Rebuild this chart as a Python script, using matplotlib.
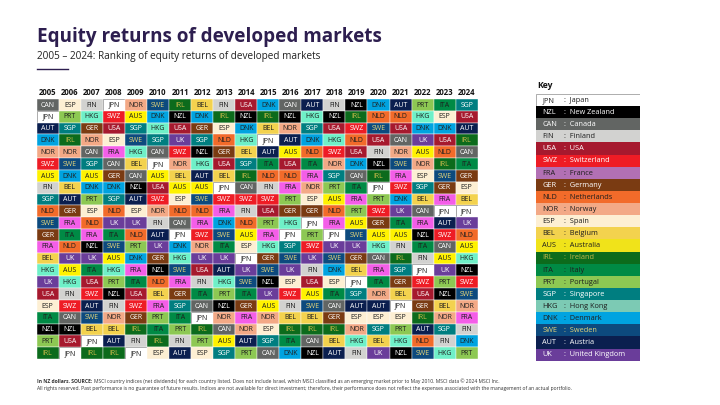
import matplotlib
matplotlib.use("Agg")
import matplotlib.pyplot as plt
from matplotlib.patches import Rectangle

FONT = ["Open Sans", "DejaVu Sans"]
plt.rcParams["font.family"] = FONT

years = [str(y) for y in range(2005, 2025)]

# Ranking rows (rank 1 = best), columns 2005..2024
r01 = ["CAN","ESP","FIN","JPN","NOR","SWE","IRL","BEL","FIN","USA","DNK","CAN","AUT","FIN","NZL","DNK","AUT","PRT","ITA","SGP"]
r02 = ["JPN","PRT","HKG","SWZ","AUS","DNK","NZL","DNK","IRL","NZL","IRL","NZL","HKG","NZL","IRL","NLD","NLD","HKG","ESP","USA"]
r03 = ["AUT","SGP","GER","USA","SGP","HKG","USA","GER","ESP","DNK","BEL","NOR","SGP","USA","SWZ","SWE","USA","DNK","DNK","AUT"]
r04 = ["DNK","IRL","NOR","ESP","SWE","SGP","UK","SGP","NLD","HKG","JPN","AUT","DNK","HKG","NLD","USA","CAN","UK","USA","IRL"]
r05 = ["NOR","NOR","CAN","FRA","HKG","CAN","SWZ","NZL","GER","BEL","AUT","AUS","NLD","SWZ","USA","FIN","NOR","AUS","NLD","CAN"]
r06 = ["SWZ","SWE","SGP","CAN","BEL","JPN","NOR","HKG","USA","SGP","ITA","USA","ITA","NOR","DNK","NZL","SWE","NOR","IRL","ITA"]
r07 = ["AUS","DNK","AUS","GER","CAN","AUS","BEL","AUT","BEL","IRL","NLD","NLD","FRA","SGP","CAN","IRL","FRA","ESP","SWE","GER"]
r08 = ["FIN","BEL","DNK","DNK","NZL","USA","AUS","AUS","JPN","CAN","FIN","FRA","NOR","PRT","ITA","JPN","SWZ","SGP","GER","ESP"]
r09 = ["SGP","AUT","PRT","SGP","AUT","SWZ","ESP","SWE","SWZ","SWZ","SWZ","PRT","ESP","AUS","FRA","PRT","DNK","BEL","FRA","BEL"]
r10 = ["NLD","GER","ESP","NLD","ESP","NOR","NLD","NLD","FRA","FIN","USA","GER","GER","NLD","PRT","SWZ","UK","CAN","JPN","JPN"]
r11 = ["SWE","FRA","NLD","UK","UK","FIN","CAN","FRA","DNK","NLD","PRT","HKG","JPN","FRA","AUS","GER","ITA","FRA","AUT","UK"]
r12 = ["GER","ITA","FRA","ITA","NLD","AUT","JPN","SWZ","SWE","AUS","FRA","JPN","PRT","JPN","SWE","AUS","AUS","NZL","SWZ","NLD"]
r13 = ["FRA","NLD","NZL","SWE","PRT","UK","DNK","NOR","ITA","ESP","HKG","SGP","SWZ","UK","UK","HKG","FIN","ITA","CAN","AUS"]
r14 = ["BEL","UK","UK","AUS","DNK","GER","HKG","UK","UK","JPN","GER","SWE","UK","SWE","GER","CAN","IRL","FIN","AUS","HKG"]
r15 = ["HKG","AUS","ITA","HKG","FRA","NZL","SWE","USA","AUT","UK","SWE","UK","FIN","DNK","BEL","FRA","SGP","JPN","UK","NZL"]
r16 = ["UK","HKG","USA","PRT","ITA","NLD","FRA","FIN","HKG","SWE","NZL","ESP","USA","ESP","JPN","ITA","GER","SWZ","PRT","SWZ"]
r17 = ["USA","FIN","SWZ","NZL","USA","BEL","GER","ITA","PRT","ITA","UK","SWZ","AUS","ITA","SGP","NOR","BEL","USA","NZL","SWE"]
r18 = ["ESP","SWZ","AUT","FIN","SWZ","FRA","SGP","CAN","NZL","GER","AUS","FIN","SWE","CAN","AUT","AUT","JPN","GER","BEL","NOR"]
r19 = ["ITA","CAN","SWE","NOR","GER","PRT","ITA","JPN","NOR","FRA","NOR","BEL","BEL","GER","ESP","ESP","ESP","IRL","NOR","FRA"]
r20 = ["NZL","NZL","BEL","BEL","IRL","ITA","PRT","IRL","CAN","NOR","ESP","IRL","IRL","IRL","NOR","SGP","PRT","AUT","SGP","FIN"]
r21 = ["PRT","USA","JPN","AUT","FIN","IRL","FIN","PRT","AUS","AUT","SGP","ITA","CAN","BEL","HKG","BEL","HKG","NLD","FIN","DNK"]
r22 = ["IRL","JPN","IRL","IRL","JPN","ESP","AUT","ESP","SGP","PRT","CAN","DNK","NZL","AUT","FIN","UK","NZL","SWE","HKG","PRT"]
rank_rows = [r01, r02, r03, r04, r05, r06, r07, r08, r09, r10, r11,
             r12, r13, r14, r15, r16, r17, r18, r19, r20, r21, r22]

key_codes = ["JPN","NZL","CAN","FIN","USA","SWZ","FRA","GER","NLD","NOR","ESP",
             "BEL","AUS","IRL","ITA","PRT","SGP","HKG","DNK","SWE","AUT","UK"]
key_names = ["Japan","New Zealand","Canada","Finland","USA","Switzerland","France",
             "Germany","Netherlands","Norway","Spain","Belgium","Australia","Ireland",
             "Italy","Portugal","Singapore","Hong Kong","Denmark","Sweden","Austria",
             "United Kingdom"]

DARK = "#1e1e1e"
WHITE = "#ffffff"
fill = {
    "JPN": "#ffffff", "NZL": "#000000", "CAN": "#626563", "FIN": "#d2d2d0",
    "USA": "#a6192e", "SWZ": "#ee1c25", "FRA": "#f45ee8", "GER": "#7a3b12",
    "NLD": "#f26b2a", "NOR": "#f3a986", "ESP": "#fdefd3", "BEL": "#f3d24e",
    "AUS": "#fff200", "IRL": "#0c6b1c", "ITA": "#008a45", "PRT": "#8dc853",
    "SGP": "#007e80", "HKG": "#6ff0c8", "DNK": "#00a3e0", "SWE": "#0d4a7e",
    "AUT": "#0b1f4f", "UK": "#6a3d9a",
}
key_fill = dict(fill)
key_fill.update({"FRA": "#b270b4", "HKG": "#7ccab4", "AUS": "#f0e31a"})
txt = {c: DARK for c in fill}
for c in ["NZL", "CAN", "USA", "SWZ", "GER", "SGP", "AUT", "UK"]:
    txt[c] = WHITE
txt["IRL"] = "#c9b94a"
txt["SWE"] = "#e3d47a"

W, H = 720, 405
fig = plt.figure(figsize=(7.2, 4.05), dpi=100)
fig.patch.set_facecolor("white")

def fx(px):
    return px / W

def fy(py):
    return 1 - py / H

# Title block
fig.text(fx(37), fy(37), "Equity returns of developed markets", fontsize=13.6,
         fontweight="bold", color="#2d1e4f", va="center", ha="left")
fig.text(fx(37), fy(56), "2005 \u2013 2024: Ranking of equity returns of developed markets",
         fontsize=7.2, color="#222222", va="center", ha="left")
fig.add_artist(plt.Line2D([fx(37), fx(68)], [fy(69), fy(69)], color="#2d1e4f", lw=1.0))

# Grid
nrows, ncols = len(rank_rows), len(years)
gx0, gx1, gy0, gy1 = 36.7, 477.7, 99, 359
ax = fig.add_axes([fx(gx0), fy(gy1), fx(gx1 - gx0), (gy1 - gy0) / H])
ax.set_xlim(0, ncols)
ax.set_ylim(nrows, 0)
ax.axis("off")
for i, row in enumerate(rank_rows):
    for j, code in enumerate(row):
        ec = "#a0a0a0" if code == "JPN" else "white"
        lw = 0.6 if code == "JPN" else 0.3
        ax.add_patch(Rectangle((j, i), 1, 1, facecolor=fill[code], edgecolor=ec,
                               linewidth=lw))
        ax.text(j + 0.5, i + 0.52, code, ha="center", va="center", fontsize=5.0,
                color=txt[code])
for j, y in enumerate(years):
    ax.text(j + 0.5, -0.55, y, ha="center", va="center", fontsize=5.6,
            fontweight="bold", color="#111111", clip_on=False)

# Key
kx0, kx1, ky0, ky1 = 536, 640, 94, 360.7
kax = fig.add_axes([fx(kx0), fy(ky1), fx(kx1 - kx0), (ky1 - ky0) / H])
kax.set_xlim(0, 1)
kax.set_ylim(len(key_codes), 0)
kax.axis("off")
for i, (code, name) in enumerate(zip(key_codes, key_names)):
    ec = "#a0a0a0" if code == "JPN" else key_fill[code]
    kax.add_patch(Rectangle((0, i), 1, 1, facecolor=key_fill[code], edgecolor=ec,
                            linewidth=0.6 if code == "JPN" else 0))
    kax.text(0.06, i + 0.52, code, ha="left", va="center", fontsize=5.3, color=txt[code])
    kax.text(0.27, i + 0.52, ":  " + name, ha="left", va="center", fontsize=5.3,
             color=txt[code])
fig.text(fx(537), fy(85), "Key", fontsize=6.2, fontweight="bold", color="#111111",
         va="center", ha="left")

# Footnote
FN = 3.6
bold_part = fig.text(fx(37), fy(381.5), "In NZ dollars. SOURCE:", fontsize=FN,
                     fontweight="bold", color="#333333", va="center", ha="left")
renderer = fig.canvas.get_renderer()
bb = bold_part.get_window_extent(renderer=renderer)
fig.text(bb.x1 / fig.bbox.width + fx(1.5), fy(381.5),
         "MSCI country indices (net dividends) for each country listed. Does not include Israel, "
         "which MSCI classified as an emerging market prior to May 2010. MSCI data \u00a9 2024 MSCI Inc.",
         fontsize=FN, color="#333333", va="center", ha="left")
fig.text(fx(37), fy(388.5),
         "All rights reserved. Past performance is no guarantee of future results. Indices are not "
         "available for direct investment; therefore, their performance does not reflect the expenses "
         "associated with the management of an actual portfolio.",
         fontsize=FN, color="#333333", va="center", ha="left")

fig.savefig("out.png", dpi=100)
